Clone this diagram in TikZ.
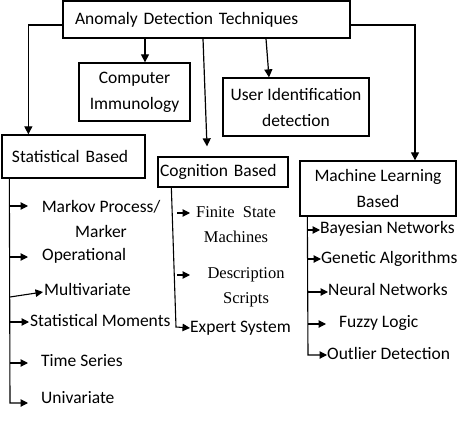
\documentclass[tikz,border=0pt]{standalone}
\usepackage{fontspec}
\setmainfont{Carlito}
\newfontfamily\serifx{Liberation Serif}
\usetikzlibrary{arrows.meta}
\begin{document}
\begin{tikzpicture}[x=1pt,y=-1pt,
 box/.style={draw,line width=1.3pt,inner sep=0pt,font=\fontsize{17.5}{26}\selectfont},
 lbl/.style={inner sep=0pt,font=\fontsize{17.5}{25}\selectfont},
 sl/.style={lbl,anchor=west,text height=12pt,text depth=3.5pt},
 srf/.style={inner sep=0pt,font=\serifx\fontsize{16.5}{25}\selectfont},
 arr/.style={line width=1.2pt,-{Triangle[length=8pt,width=8pt]}},
 brr/.style={line width=1.1pt,-{Triangle[length=7.5pt,width=7.5pt]}}]
\useasboundingbox (0,0) rectangle (474,425);

% main boxes
\node[box,minimum width=287pt,minimum height=37pt,text width=263pt,inner xsep=12pt,align=left] (top) at (206.5,19.5) {Anomaly Detection Techniques};
\node[box,minimum width=111pt,minimum height=58pt,align=center] (comp) at (134.5,92) {Computer\\Immunology};
\node[box,minimum width=146pt,minimum height=58pt,align=center] (user) at (296,107) {User Identification\\detection};
\node[box,minimum width=143pt,minimum height=43pt,text width=123pt,inner xsep=10pt,align=left] (stat) at (73.5,156.5) {Statistical Based};
\node[box,minimum width=130pt,minimum height=30pt,text width=126pt,inner xsep=2pt,align=left] (cog) at (223,172) {Cognition Based};
\node[box,minimum width=156pt,minimum height=55pt,align=center] (ml) at (378,188.5) {Machine Learning\\Based};

% connectors from top box
\draw[arr] ([yshift=-5.5pt]top.west) -| ([xshift=27pt]stat.north west);
\draw[arr] ([xshift=-61.5pt]top.south) -- ([xshift=10.5pt]comp.north);
\draw[arr] ([xshift=-3.5pt]top.south) -- ([xshift=-16pt,yshift=10pt]cog.north);
\draw[arr] ([xshift=59.5pt]top.south) -- ([xshift=-27pt]user.north);
\draw[arr] ([yshift=-5.5pt]top.east) -| ([xshift=37pt]ml.north);

% statistical children
\node[lbl,align=center] (markov) at (101,218.5) {Markov Process/\\Marker};
\node[sl] (oper) at (42,256) {Operational};
\node[sl] (multi) at (44,291) {Multivariate};
\node[sl] (moments) at (30,322) {Statistical Moments};
\node[sl] (time) at (41,362) {Time Series};
\node[sl] (univ) at (41,399) {Univariate};

\coordinate (sTop) at ([xshift=8pt]stat.south west);
\coordinate (sEnd) at (10,403);
\draw[brr] (sTop) -- (sEnd) -- (28,403);
\draw[brr] (10,206) -- (28,206);
\draw[brr] (10,257) -- (28,257);
\draw[brr] (10,297) -- (43,292);
\draw[brr] (10,322) -- (29,322);
\draw[brr] (10,363) -- (28,363);

% cognition children
\node[srf,align=center] (finite) at (236,225) {Finite\ \ State\\Machines};
\node[srf,align=center] (descr) at (246,287) {Description\\Scripts};
\node[sl] (expert) at (190,328) {Expert System};

\coordinate (cTop) at ([xshift=14pt]cog.south west);
\coordinate (cEnd) at (176,327);
\draw[brr] (cTop) -- (cEnd) -- (expert.west);
\draw[brr] (177,213) -- (190,213);
\draw[brr] (177,275) -- (190,275);

% machine learning children
\node[sl] (bayes) at (320,229) {Bayesian Networks};
\node[sl] (genetic) at (321,259) {Genetic Algorithms};
\node[sl] (neural) at (328,291) {Neural Networks};
\node[sl] (fuzzy) at (339,323) {Fuzzy Logic};
\node[sl] (outlier) at (327,355) {Outlier Detection};

\coordinate (mTop) at ([xshift=8pt]ml.south west);
\coordinate (mEnd) at (308,355);
\draw[brr] (mTop) -- (mEnd) -- (outlier.west);
\draw[brr] (308,230) -- (320,230);
\draw[brr] (308,259) -- (321,259);
\draw[brr] (308,292) -- (328,292);
\draw[brr] (308,324) -- (326,324);
\end{tikzpicture}
\end{document}
